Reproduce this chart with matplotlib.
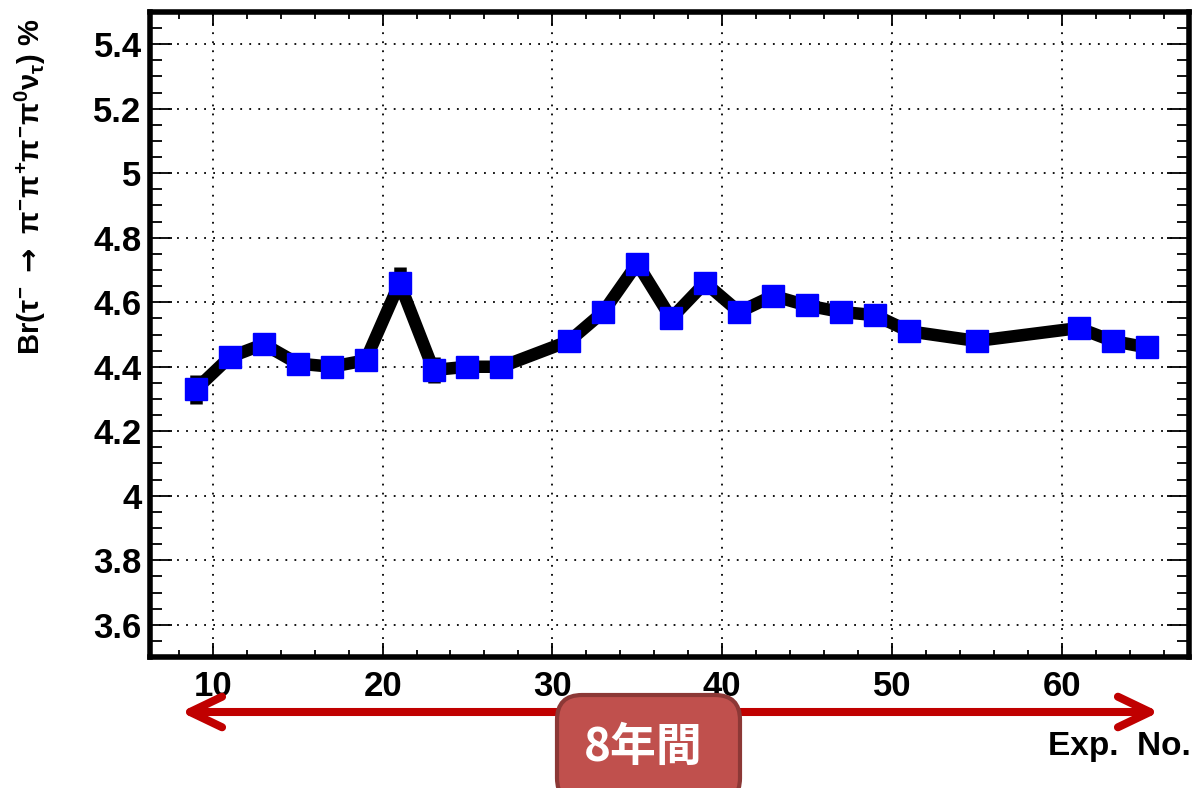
import matplotlib
matplotlib.use('Agg')
from matplotlib import pyplot as plt
from matplotlib.patches import FancyArrowPatch, FancyBboxPatch
from matplotlib.ticker import MultipleLocator

# data
exp_no = [9, 11, 13, 15, 17, 19, 21, 23, 25, 27, 31, 33, 35, 37, 39, 41, 43, 45,
          47, 49, 51, 55, 61, 63, 65]
br = [4.33, 4.43, 4.47, 4.41, 4.40, 4.42, 4.66, 4.39, 4.40, 4.40, 4.48, 4.57,
      4.72, 4.55, 4.66, 4.57, 4.62, 4.59, 4.57, 4.56, 4.51, 4.48, 4.52, 4.48, 4.46]
br_err = [0.045, 0.03, 0.03, 0.03, 0.03, 0.03, 0.05, 0.04, 0.03, 0.03, 0.03, 0.03,
          0.03, 0.03, 0.03, 0.03, 0.03, 0.03, 0.03, 0.03, 0.03, 0.03, 0.03, 0.03, 0.03]
x_ticks = [10, 20, 30, 40, 50, 60]
y_ticks = [3.6, 3.8, 4.0, 4.2, 4.4, 4.6, 4.8, 5.0, 5.2, 5.4]
y_label = r'Br($\tau^{-}\ \mathsf{\rightarrow}\ \pi^{-}\pi^{+}\pi^{-}\pi^{0}\nu_{\tau}$) %'
x_label = 'Exp.  No.'
box_text = '8年間'

plt.rcParams['font.family'] = ['Liberation Sans', 'DejaVu Sans']
plt.rcParams['font.weight'] = 'bold'
plt.rcParams['mathtext.fontset'] = 'custom'
plt.rcParams['mathtext.rm'] = 'Liberation Sans:bold'
plt.rcParams['mathtext.it'] = 'Liberation Sans:bold'
plt.rcParams['mathtext.bf'] = 'Liberation Sans:bold'
plt.rcParams['mathtext.sf'] = 'DejaVu Sans:bold'

fig = plt.figure(figsize=(11.96, 7.88), dpi=100)
ax = fig.add_axes([150/1196, 1-657/788, (1189-150)/1196, (657-12)/788])

# thick line + error bars + blue squares
ax.errorbar(exp_no, br, yerr=br_err, fmt='none', ecolor='black', elinewidth=9,
            capsize=0, zorder=2)
ax.plot(exp_no, br, color='black', lw=9, solid_joinstyle='round', zorder=2)
ax.plot(exp_no, br, ls='none', marker='s', ms=16, mfc='#0000ff', mec='#0000ff',
        zorder=3)

ax.set_xlim(6.3, 67.5)
ax.set_ylim(3.5, 5.5)
ax.set_xticks(x_ticks)
ax.set_yticks(y_ticks)
ax.set_yticklabels([('%g' % v) for v in y_ticks])
ax.xaxis.set_minor_locator(MultipleLocator(2))
ax.yaxis.set_minor_locator(MultipleLocator(0.05))

ax.grid(True, which='major', color='black', ls=(0, (1, 4)), lw=1.3)
ax.tick_params(which='both', direction='in', top=True, right=True, width=1.3,
               colors='black', labelsize=25)
ax.tick_params(axis='x', which='major', length=10, pad=9)
ax.tick_params(axis='x', which='minor', length=5)
ax.tick_params(axis='y', which='major', length=16, pad=6)
ax.tick_params(axis='y', which='minor', length=8.5)
for lab in ax.get_xticklabels() + ax.get_yticklabels():
    lab.set_fontweight('bold')
for sp in ax.spines.values():
    sp.set_linewidth(4)

fig.text(30/1196, 1-18/788, y_label, rotation=90, ha='center', va='top',
         fontsize=21, fontweight='bold')
fig.text(1191/1196, 1-746/788, x_label, ha='right', va='center', fontsize=24,
         fontweight='bold')

# red double arrow
arr = FancyArrowPatch((178/1196, 1-712/788), (1162/1196, 1-712/788),
                      transform=fig.transFigure,
                      arrowstyle='<->,head_length=23,head_width=11',
                      mutation_scale=1, color='#c00000', lw=5.8,
                      capstyle='round', joinstyle='round')
fig.patches.append(arr)

# rounded box with text
box = FancyBboxPatch((5.57, -0.15), 1.83, 1.08, boxstyle='round,pad=0,rounding_size=0.25',
                     transform=fig.dpi_scale_trans, fc='#c0504d', ec='#8c3836', lw=3)
fig.patches.append(box)
fig.text(6.43, 0.40, box_text, transform=fig.dpi_scale_trans, ha='center', va='center',
         color='white', fontsize=33, fontweight='bold',
         family=['Noto Sans CJK JP', 'DejaVu Sans'])

fig.savefig('out.png', dpi=100)
